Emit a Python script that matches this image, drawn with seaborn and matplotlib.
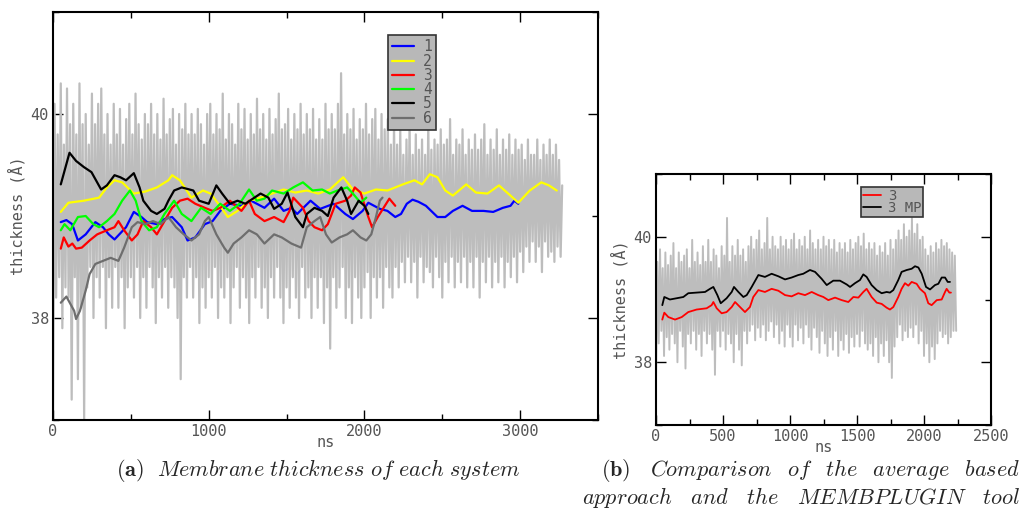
import numpy as np
import pandas as pd
import matplotlib
matplotlib.use("Agg")
import matplotlib.pyplot as plt
import seaborn as sns
from matplotlib.ticker import MultipleLocator

# ---------------- data ----------------
# left panel: smoothed thickness of each system (ns, Angstrom)
s1_x = [50, 86, 123, 160, 210, 272, 321, 358, 395, 469, 519, 568, 605, 667, 716, 765, 827, 864, 914, 975,
        1025, 1074, 1136, 1210, 1272, 1358, 1420, 1481, 1531, 1568, 1654, 1716, 1802, 1877, 1926, 1988, 2025,
        2099, 2148, 2198, 2235, 2272, 2309, 2346, 2395, 2469, 2519, 2568, 2630, 2691, 2765, 2827, 2889, 2938,
        2963, 2988]
s1_y = [38.94, 38.96, 38.92, 38.76, 38.82, 38.94, 38.89, 38.82, 38.77, 38.89, 39.04, 38.99, 38.94, 38.92, 38.97,
        38.99, 38.89, 38.76, 38.79, 38.92, 38.95, 39.05, 39.12, 39.10, 39.15, 39.08, 39.17, 39.05, 39.08, 39.02,
        39.15, 39.07, 39.12, 39.02, 38.97, 39.05, 39.13, 39.07, 39.05, 38.99, 39.02, 39.12, 39.16, 39.14, 39.10,
        38.99, 38.99, 39.05, 39.10, 39.05, 39.05, 39.04, 39.08, 39.10, 39.15, 39.12]

s2_x = [50, 99, 198, 296, 346, 395, 444, 519, 593, 667, 741, 765, 815, 889, 963, 1012, 1062, 1123, 1185, 1259,
        1333, 1407, 1481, 1556, 1630, 1704, 1778, 1864, 1926, 2000, 2074, 2148, 2247, 2321, 2370, 2420, 2469,
        2519, 2568, 2654, 2716, 2790, 2864, 2938, 2988, 3062, 3136, 3185, 3235]
s2_y = [39.04, 39.13, 39.15, 39.18, 39.28, 39.35, 39.33, 39.22, 39.24, 39.28, 39.35, 39.40, 39.35, 39.18, 39.25,
        39.22, 39.12, 38.99, 39.05, 39.15, 39.18, 39.22, 39.26, 39.23, 39.25, 39.22, 39.26, 39.38, 39.26, 39.22,
        39.26, 39.25, 39.31, 39.35, 39.31, 39.41, 39.38, 39.25, 39.20, 39.31, 39.23, 39.22, 39.30, 39.20, 39.13,
        39.25, 39.33, 39.30, 39.25]

s3_x = [50, 69, 99, 124, 148, 185, 235, 284, 346, 395, 420, 457, 506, 543, 580, 630, 667, 716, 765, 815, 864, 914,
        975, 1025, 1074, 1136, 1210, 1259, 1296, 1358, 1420, 1481, 1519, 1543, 1605, 1642, 1679, 1728, 1765, 1815,
        1877, 1914, 1938, 1975, 2025, 2049, 2086, 2123, 2160, 2198]
s3_y = [38.68, 38.79, 38.70, 38.73, 38.68, 38.69, 38.76, 38.82, 38.86, 38.89, 38.95, 38.86, 38.76, 38.82, 38.95,
        38.89, 38.82, 38.95, 39.08, 39.15, 39.17, 39.12, 39.08, 39.05, 39.08, 39.15, 39.05, 39.15, 39.02, 38.95,
        38.99, 38.94, 39.05, 39.18, 39.08, 38.95, 38.89, 38.86, 38.92, 39.12, 39.15, 39.20, 39.28, 39.23, 38.99,
        38.89, 38.99, 39.08, 39.17, 39.10]

s4_x = [50, 74, 111, 160, 210, 259, 296, 346, 395, 444, 494, 531, 568, 617, 667, 716, 778, 827, 889, 951, 1012,
        1074, 1136, 1198, 1259, 1309, 1358, 1407, 1481, 1543, 1605, 1667, 1728, 1778, 1827, 1889, 1926, 1975, 2012]
s4_y = [38.86, 38.92, 38.86, 38.99, 39.00, 38.92, 38.89, 38.95, 39.02, 39.15, 39.25, 39.15, 38.95, 38.86, 38.89,
        39.02, 39.15, 39.02, 38.95, 39.08, 39.02, 39.12, 39.05, 39.12, 39.26, 39.15, 39.17, 39.25, 39.22, 39.28,
        39.33, 39.25, 39.26, 39.22, 39.25, 39.28, 39.22, 39.13, 39.18]

s5_x = [50, 106, 148, 198, 247, 309, 346, 395, 432, 469, 519, 556, 580, 630, 667, 716, 741, 778, 827, 901, 938,
        1000, 1049, 1086, 1136, 1185, 1235, 1333, 1383, 1420, 1469, 1506, 1556, 1605, 1630, 1679, 1728, 1765,
        1802, 1852, 1889, 1914, 1963, 2000, 2025]
s5_y = [39.31, 39.62, 39.54, 39.48, 39.43, 39.26, 39.30, 39.40, 39.38, 39.35, 39.42, 39.28, 39.15, 39.05, 39.02,
        39.07, 39.15, 39.25, 39.28, 39.25, 39.15, 39.12, 39.30, 39.22, 39.12, 39.15, 39.12, 39.22, 39.18, 39.07,
        39.12, 39.23, 38.99, 38.89, 39.02, 39.08, 39.05, 39.00, 39.18, 39.28, 39.15, 39.02, 39.15, 39.10, 39.02]

s6_x = [50, 86, 111, 136, 148, 173, 210, 235, 272, 321, 370, 420, 457, 506, 543, 593, 642, 691, 741, 790, 840,
        889, 938, 975, 1000, 1049, 1099, 1123, 1160, 1210, 1259, 1309, 1358, 1420, 1469, 1531, 1593, 1630, 1679,
        1716, 1753, 1790, 1840, 1889, 1926, 1975, 2012, 2044, 2074, 2099, 2116]
s6_y = [38.15, 38.21, 38.14, 38.07, 37.99, 38.07, 38.27, 38.43, 38.53, 38.56, 38.59, 38.56, 38.69, 38.89, 38.94,
        38.92, 38.95, 38.92, 38.99, 38.89, 38.82, 38.76, 38.82, 38.95, 38.99, 38.82, 38.69, 38.64, 38.73, 38.79,
        38.86, 38.82, 38.73, 38.82, 38.79, 38.73, 38.69, 38.89, 38.95, 38.99, 38.82, 38.74, 38.79, 38.82, 38.86,
        38.79, 38.76, 38.82, 38.99, 39.15, 39.18]

# left panel: raw (unsmoothed) thickness, sampled every 10 ns
raw_left = [
    37.0, 40.1, 38.2, 39.8, 38.4, 40.3, 37.9, 39.7, 38.3, 40.25,
    38.2, 39.9, 37.2, 40.1, 38.4, 39.8, 37.4, 40.3, 38.1, 39.9,
    37.0, 40.0, 38.3, 39.7, 38.5, 40.2, 38.0, 39.9, 38.4, 40.1,
    38.2, 40.25, 38.5, 39.8, 37.9, 40.0, 38.4, 39.7, 38.1, 40.1,
    38.5, 39.8, 38.1, 40.05, 38.4, 39.7, 37.9, 39.95, 38.3, 40.1,
    38.4, 39.8, 38.2, 40.2, 38.5, 39.9, 38.0, 39.75, 38.4, 40.0,
    38.1, 39.9, 38.5, 40.1, 38.3, 39.8, 37.95, 40.0, 38.4, 39.75,
    38.2, 40.15, 38.5, 39.8, 38.1, 39.95, 38.4, 40.05, 38.3, 39.7,
    38.0, 40.0, 37.4, 39.85, 38.4, 40.1, 38.2, 39.8, 38.5, 40.0,
    38.2, 39.8, 38.4, 40.05, 37.95, 39.9, 38.3, 39.7, 38.1, 40.0,
    38.4, 40.1, 38.2, 39.8, 38.5, 40.0, 38.0, 39.85, 38.3, 40.2,
    38.2, 39.75, 38.4, 40.0, 37.95, 39.9, 38.3, 39.7, 38.5, 40.1,
    38.1, 39.85, 38.4, 40.05, 38.2, 39.75, 37.95, 40.0, 38.4, 39.8,
    38.2, 40.15, 38.5, 39.85, 38.1, 40.0, 38.3, 39.75, 38.0, 40.05,
    38.4, 39.8, 38.2, 39.95, 38.5, 40.2, 38.2, 39.85, 37.95, 39.9,
    38.3, 40.05, 38.1, 39.75, 38.4, 40.0, 38.2, 39.85, 38.0, 40.1,
    38.5, 39.8, 38.2, 40.0, 38.3, 39.85, 38.0, 40.05, 38.4, 39.75,
    38.1, 39.95, 38.4, 39.75, 37.95, 40.1, 38.3, 39.85, 37.7, 40.0,
    38.4, 39.85, 38.1, 40.1, 38.3, 40.4, 38.5, 39.8, 38.0, 40.0,
    38.3, 39.85, 37.95, 40.05, 38.4, 39.75, 38.2, 39.95, 38.0, 39.85,
    38.3, 40.1, 38.45, 39.8, 38.0, 39.95, 38.4, 40.05, 38.2, 39.75,
    38.4, 40.0, 38.1, 39.85, 38.5, 39.95, 38.3, 39.7, 38.2, 39.9,
    38.5, 39.7, 38.3, 39.85, 38.55, 39.6, 38.35, 39.75, 38.6, 39.9,
    38.35, 39.6, 38.55, 39.8, 38.2, 39.65, 38.6, 39.75, 38.35, 39.6,
    38.5, 39.9, 38.45, 39.65, 38.3, 39.75, 38.6, 39.7, 38.4, 39.85,
    38.2, 39.7, 38.55, 39.75, 38.35, 39.95, 38.6, 39.6, 38.3, 39.75,
    38.55, 39.7, 38.35, 39.85, 38.6, 39.6, 38.3, 39.75, 38.55, 39.65,
    38.3, 39.8, 38.6, 39.65, 38.2, 39.75, 38.55, 39.9, 38.35, 39.6,
    38.6, 39.75, 38.3, 39.65, 38.55, 39.85, 38.35, 39.6, 38.6, 39.75,
    38.3, 39.65, 38.55, 39.8, 38.4, 39.6, 38.6, 39.75, 38.35, 39.65,
    38.65, 39.7, 38.45, 39.55, 38.7, 39.75, 38.55, 39.6, 38.75, 39.6,
    38.55, 39.75, 38.7, 39.55, 38.45, 39.7, 38.75, 39.6, 38.6, 39.75,
    38.65, 39.6, 38.55, 39.7, 38.7, 39.55, 38.6, 39.3,
]

# right panel: smoothed system 3, average-based vs MEMBPLUGIN
r3_x = [47, 62, 92, 142, 192, 241, 303, 378, 415, 428, 453, 490, 527, 565, 590, 627, 664, 701, 726, 764, 813, 863,
        913, 963, 1012, 1062, 1112, 1162, 1211, 1249, 1286, 1336, 1386, 1435, 1473, 1510, 1547, 1572, 1609, 1647,
        1684, 1721, 1746, 1771, 1808, 1833, 1858, 1883, 1908, 1945, 1970, 2007, 2032, 2057, 2095, 2132, 2157,
        2169, 2189, 2201]
r3_y = [38.68, 38.79, 38.72, 38.68, 38.72, 38.80, 38.84, 38.86, 38.91, 38.96, 38.86, 38.78, 38.80, 38.88, 38.96,
        38.88, 38.80, 38.88, 39.04, 39.15, 39.12, 39.17, 39.14, 39.07, 39.05, 39.10, 39.07, 39.12, 39.07, 39.04,
        38.99, 39.03, 38.99, 38.96, 39.04, 39.03, 39.12, 39.17, 39.04, 38.95, 38.93, 38.87, 38.84, 38.88, 39.04,
        39.17, 39.26, 39.22, 39.28, 39.25, 39.17, 39.10, 38.94, 38.91, 38.99, 39.00, 39.12, 39.17, 39.11, 39.11]

r3mp_x = [47, 62, 104, 154, 204, 241, 303, 366, 403, 428, 458, 483, 527, 565, 582, 615, 652, 677, 714, 764, 813,
          863, 913, 963, 1012, 1062, 1099, 1149, 1187, 1236, 1274, 1323, 1373, 1423, 1448, 1485, 1522, 1547, 1572,
          1609, 1647, 1684, 1721, 1746, 1771, 1808, 1833, 1871, 1908, 1933, 1958, 1983, 2015, 2045, 2082, 2107,
          2132, 2157, 2177, 2194]
r3mp_y = [38.91, 39.04, 39.00, 39.02, 39.04, 39.10, 39.11, 39.12, 39.17, 39.20, 39.07, 38.94, 39.02, 39.12, 39.20,
          39.12, 39.04, 39.07, 39.20, 39.39, 39.36, 39.41, 39.37, 39.32, 39.35, 39.39, 39.41, 39.47, 39.44, 39.33,
          39.23, 39.30, 39.30, 39.24, 39.20, 39.26, 39.31, 39.40, 39.36, 39.23, 39.15, 39.10, 39.12, 39.11, 39.15,
          39.31, 39.44, 39.47, 39.49, 39.53, 39.51, 39.41, 39.20, 39.16, 39.23, 39.25, 39.35, 39.35, 39.28, 39.28]

# right panel: raw thickness, sampled every 10 ns
raw_right = [
    37.7, 39.6, 38.3, 39.8, 38.5, 39.5, 38.1, 39.75, 38.4, 39.55,
    38.2, 39.7, 38.45, 39.9, 38.3, 39.5, 38.0, 39.75, 38.5, 39.6,
    38.25, 39.7, 37.9, 39.8, 38.45, 39.5, 38.3, 39.95, 38.5, 39.6,
    38.2, 39.75, 38.45, 39.55, 38.1, 39.85, 38.5, 39.6, 38.3, 39.95,
    38.45, 39.6, 38.2, 39.8, 37.8, 39.7, 38.5, 39.5, 38.25, 39.85,
    38.5, 39.7, 38.2, 40.3, 38.45, 39.6, 38.3, 39.85, 38.0, 39.7,
    38.45, 39.95, 38.2, 39.7, 37.95, 39.8, 38.5, 39.6, 38.3, 39.85,
    38.5, 40.0, 38.6, 39.8, 38.35, 39.95, 38.55, 40.1, 38.4, 39.8,
    38.6, 39.9, 38.35, 40.3, 38.5, 39.8, 38.65, 40.0, 38.4, 39.85,
    38.6, 39.8, 38.3, 40.0, 38.5, 39.85, 38.25, 39.95, 38.6, 39.8,
    38.4, 39.95, 38.25, 40.05, 38.6, 39.8, 38.35, 39.95, 38.55, 39.85,
    38.3, 40.0, 38.6, 39.8, 38.4, 40.1, 38.2, 39.9, 38.55, 39.8,
    38.4, 39.95, 38.15, 39.8, 38.5, 40.0, 38.3, 39.85, 38.1, 39.95,
    38.4, 39.8, 38.2, 39.95, 38.5, 39.75, 38.1, 39.9, 38.35, 39.8,
    38.2, 39.9, 38.45, 39.75, 38.15, 39.95, 38.4, 39.8, 38.25, 39.9,
    38.45, 40.0, 38.25, 39.85, 38.5, 40.05, 38.3, 39.8, 38.2, 39.9,
    38.3, 39.8, 38.1, 39.9, 38.4, 39.7, 38.0, 39.85, 38.3, 39.75,
    38.1, 39.9, 38.35, 39.7, 38.0, 39.95, 37.75, 39.8, 38.25, 39.95,
    38.4, 40.1, 38.6, 39.95, 38.35, 40.2, 38.5, 40.0, 38.4, 40.1,
    38.55, 40.3, 38.4, 40.05, 38.6, 40.2, 38.3, 39.95, 38.5, 40.0,
    38.1, 39.8, 38.3, 39.7, 38.0, 39.85, 38.25, 39.75, 38.05, 39.9,
    38.3, 39.8, 38.5, 39.95, 38.4, 39.85, 38.45, 39.9, 38.3, 39.8,
    38.4, 39.75, 38.5, 39.7, 38.5,
]

left_series = ["1", "2", "3", "4", "5", "6"]
left_colors = ["#0000ff", "#ffff00", "#ff0000", "#00ff00", "#000000", "#6e6e6e"]
right_series = ["3", "3 MP"]
right_colors = ["#ff0000", "#000000"]

# ---------------- build frames ----------------
left_df = pd.concat([
    pd.DataFrame({"ns": x, "thickness": y, "system": name})
    for name, x, y in zip(left_series, [s1_x, s2_x, s3_x, s4_x, s5_x, s6_x],
                          [s1_y, s2_y, s3_y, s4_y, s5_y, s6_y])
], ignore_index=True)
raw_left_df = pd.DataFrame({"ns": np.arange(len(raw_left)) * 10, "thickness": raw_left})

right_df = pd.concat([
    pd.DataFrame({"ns": x, "thickness": y, "system": name})
    for name, x, y in zip(right_series, [r3_x, r3mp_x], [r3_y, r3mp_y])
], ignore_index=True)
raw_right_df = pd.DataFrame({"ns": np.arange(len(raw_right)) * 10, "thickness": raw_right})

# ---------------- style ----------------
sns.set_style("ticks")
plt.rcParams["mathtext.fontset"] = "cm"
plt.rcParams["font.family"] = ["DejaVu Sans Mono", "DejaVu Sans"]

GRAY = "#bdbdbd"
TXT = "#555555"

fig = plt.figure(figsize=(10.22, 5.11), dpi=100)
axL = fig.add_axes([53 / 1022, 1 - 420 / 511, 545 / 1022, 408 / 511])
axR = fig.add_axes([656 / 1022, 1 - 425 / 511, 335 / 1022, 251 / 511])


def style_axis(ax, xmax, xmajor, xminor):
    ax.set_xlim(0, xmax)
    ax.set_ylim(37, 41)
    ax.xaxis.set_major_locator(MultipleLocator(xmajor))
    ax.xaxis.set_minor_locator(MultipleLocator(xminor))
    ax.set_yticks([38, 40])
    ax.yaxis.set_minor_locator(MultipleLocator(1))
    ax.tick_params(which="both", direction="in", top=True, right=True,
                   width=1.0, color="black")
    ax.tick_params(which="major", length=7, labelsize=11, labelcolor=TXT, pad=3)
    ax.tick_params(which="minor", length=4)
    for sp in ax.spines.values():
        sp.set_linewidth(1.5)
        sp.set_color("black")
    ax.set_xlabel("ns", fontsize=11, color=TXT, labelpad=-3)
    ax.set_ylabel("thickness (Å)", fontsize=11, color=TXT, labelpad=4)


def style_legend(leg):
    fr = leg.get_frame()
    fr.set_facecolor("#b8b8b8")
    fr.set_edgecolor("#333333")
    fr.set_linewidth(1.2)
    fr.set_alpha(1)
    for t in leg.get_texts():
        t.set_color(TXT)


# left panel
sns.lineplot(data=raw_left_df, x="ns", y="thickness", ax=axL, color=GRAY,
             linewidth=1.6, estimator=None, sort=False, legend=False)
sns.lineplot(data=left_df, x="ns", y="thickness", hue="system", hue_order=left_series,
             palette=left_colors, ax=axL, linewidth=1.6, estimator=None, sort=False)
style_axis(axL, 3500, 1000, 500)
legL = axL.legend(loc="upper left", bbox_to_anchor=(335 / 545, 1 - 23 / 408), frameon=True,
                  fontsize=10.5, handlelength=1.5, handletextpad=0.6, labelspacing=-0.05,
                  borderpad=0.3, fancybox=False, borderaxespad=0)
style_legend(legL)

# right panel
sns.lineplot(data=raw_right_df, x="ns", y="thickness", ax=axR, color=GRAY,
             linewidth=1.4, estimator=None, sort=False, legend=False)
sns.lineplot(data=right_df, x="ns", y="thickness", hue="system", hue_order=right_series,
             palette=right_colors, ax=axR, linewidth=1.3, estimator=None, sort=False)
style_axis(axR, 2500, 500, 250)
legR = axR.legend(loc="upper left", bbox_to_anchor=(205 / 335, 1 - 13 / 251), frameon=True,
                  fontsize=10, handlelength=1.3, handletextpad=0.5, labelspacing=-0.1,
                  borderpad=0.12, fancybox=False, borderaxespad=0)
style_legend(legR)

# captions
fig.text(318 / 1022, 1 - 470 / 511,
         r"$\mathbf{(a)}\ \ \mathit{Membrane\ thickness\ of\ each\ system}$",
         ha="center", va="center", fontsize=16)
fig.text(1020 / 1022, 1 - 470 / 511,
         r"$\mathbf{(b)}\ \ \ \mathit{Comparison\ \ \,of\ \ \,the\ \ \,average\ \ \,based}$",
         ha="right", va="center", fontsize=16)
fig.text(1020 / 1022, 1 - 497 / 511,
         r"$\mathit{approach\ \ \ and\ \ \ the\ \ \ MEMBPLUGIN\ \ \ tool}$",
         ha="right", va="center", fontsize=16)

fig.savefig("out.png", dpi=100)
